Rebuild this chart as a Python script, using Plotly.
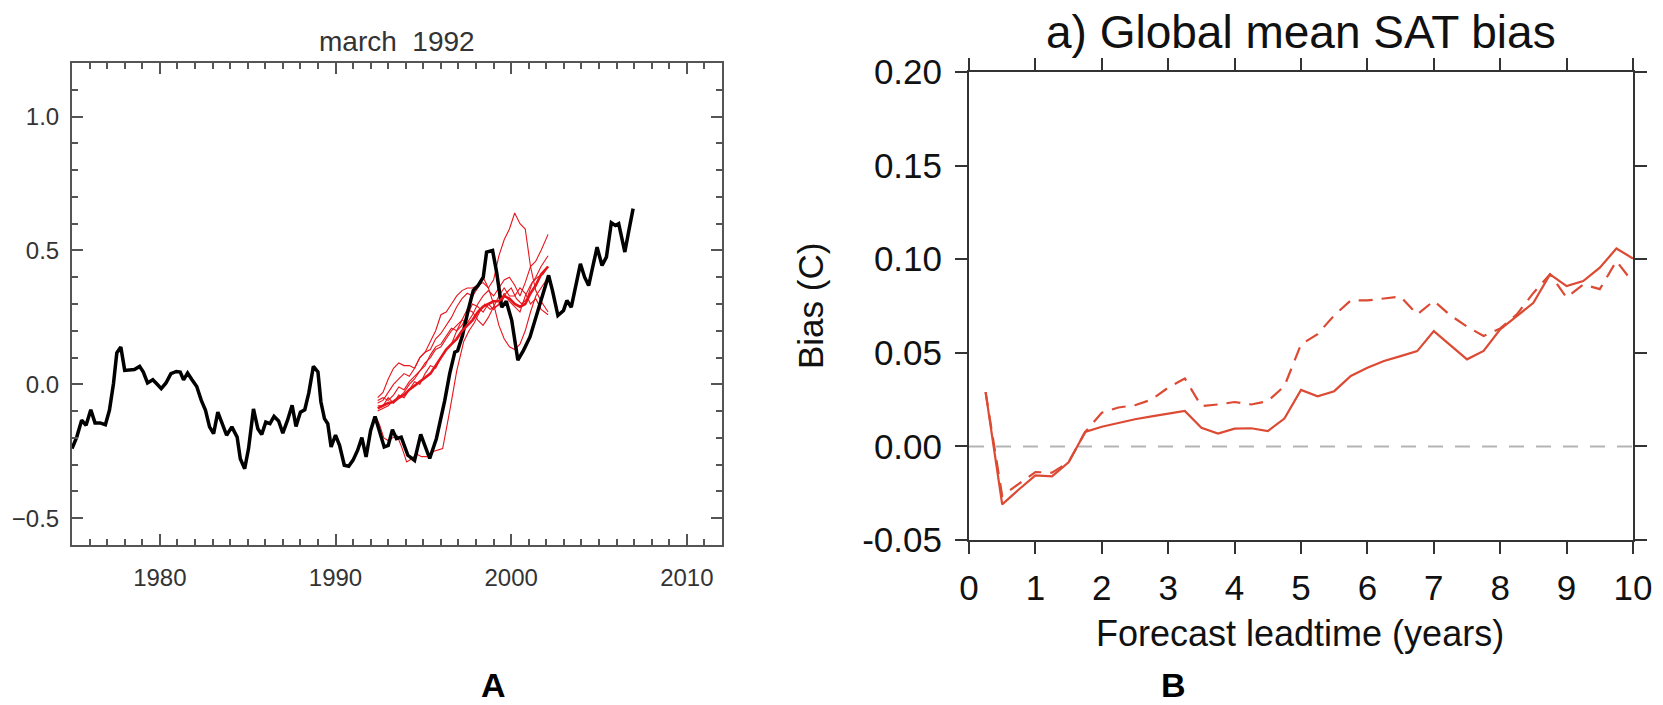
import plotly.graph_objects as go

# ---------------- Panel A data ----------------
obs_year = [1975.0, 1975.27, 1975.55, 1975.8, 1976.07, 1976.31, 1976.6, 1976.9, 1977.13, 1977.36,
            1977.55, 1977.78, 1978.0, 1978.3, 1978.55, 1978.85, 1979.06, 1979.3, 1979.6, 1979.85,
            1980.08, 1980.35, 1980.63, 1980.94, 1981.16, 1981.35, 1981.58, 1981.83, 1982.1, 1982.36,
            1982.6, 1982.83, 1983.06, 1983.3, 1983.6, 1983.8, 1984.1, 1984.4, 1984.58, 1984.83,
            1985.05, 1985.33, 1985.58, 1985.8, 1986.03, 1986.27, 1986.5, 1986.76, 1987.0, 1987.27,
            1987.53, 1987.75, 1988.0, 1988.25, 1988.48, 1988.74, 1989.0, 1989.17, 1989.37, 1989.56,
            1989.75, 1990.0, 1990.23, 1990.5, 1990.75, 1991.0, 1991.26, 1991.5, 1991.74, 1992.0,
            1992.25, 1992.48, 1992.77, 1993.0, 1993.24, 1993.47, 1993.74, 1994.12, 1994.5, 1994.85,
            1995.36, 1995.74, 1996.03, 1996.22, 1996.5, 1996.79, 1996.95, 1997.22, 1997.55, 1997.84,
            1998.13, 1998.41, 1998.6, 1998.94, 1999.17, 1999.46, 1999.72, 2000.03, 2000.38, 2000.7,
            2001.07, 2001.46, 2001.84, 2002.13, 2002.35, 2002.66, 2002.98, 2003.17, 2003.42, 2003.69,
            2003.94, 2004.18, 2004.41, 2004.66, 2004.89, 2005.17, 2005.42, 2005.7, 2005.93, 2006.12,
            2006.47, 2006.7, 2006.94]
obs_anom = [-0.24, -0.197, -0.134, -0.153, -0.095, -0.144, -0.144, -0.151, -0.097, 0.002,
            0.117, 0.139, 0.052, 0.052, 0.055, 0.067, 0.046, 0.005, 0.017, 0.0,
            -0.016, 0.005, 0.04, 0.048, 0.046, 0.017, 0.042, 0.017, -0.008, -0.06,
            -0.097, -0.159, -0.184, -0.104, -0.159, -0.19, -0.159, -0.197, -0.278, -0.315,
            -0.24, -0.092, -0.166, -0.187, -0.141, -0.147, -0.12, -0.137, -0.182, -0.134,
            -0.078, -0.157, -0.104, -0.095, -0.032, 0.067, 0.046, -0.066, -0.128, -0.147,
            -0.234, -0.19, -0.228, -0.302, -0.306, -0.283, -0.246, -0.199, -0.271, -0.172,
            -0.12, -0.172, -0.234, -0.228, -0.169, -0.203, -0.197, -0.265, -0.284, -0.187,
            -0.277, -0.203, -0.122, -0.06, 0.04, 0.12, 0.125, 0.18, 0.276, 0.35,
            0.37, 0.40, 0.494, 0.5, 0.419, 0.288, 0.31, 0.239, 0.09, 0.127,
            0.177, 0.264, 0.35, 0.407, 0.35, 0.257, 0.276, 0.313, 0.288, 0.376,
            0.45, 0.40, 0.369, 0.444, 0.512, 0.444, 0.475, 0.603, 0.593, 0.6,
            0.494, 0.575, 0.656]

fc_year = [1992.4, 1992.7, 1993.0, 1993.3, 1993.6, 1993.9, 1994.2, 1994.5, 1994.8, 1995.1,
           1995.4, 1995.7, 1996.0, 1996.3, 1996.6, 1996.9, 1997.2, 1997.5, 1997.8, 1998.1,
           1998.4, 1998.7, 1999.0, 1999.3, 1999.6, 1999.9, 2000.2, 2000.5, 2000.8, 2001.1,
           2001.4, 2001.7, 2002.1]
member1 = [-0.05, -0.03, 0.02, 0.06, 0.08, 0.07, 0.07, 0.06, 0.10, 0.12,
           0.16, 0.20, 0.26, 0.27, 0.30, 0.33, 0.35, 0.36, 0.36, 0.37,
           0.38, 0.36, 0.39, 0.48, 0.54, 0.58, 0.64, 0.60, 0.58, 0.44,
           0.35, 0.31, 0.27]
member2 = [-0.07, -0.06, -0.03, 0.0, 0.02, 0.04, 0.03, 0.06, 0.10, 0.12,
           0.13, 0.17, 0.19, 0.22, 0.25, 0.29, 0.32, 0.34, 0.33, 0.36,
           0.40, 0.36, 0.30, 0.22, 0.17, 0.14, 0.13, 0.15, 0.20, 0.27,
           0.33, 0.36, 0.40]
member3 = [-0.06, -0.05, -0.06, -0.04, -0.01, -0.02, 0.01, 0.03, 0.05, 0.08,
           0.10, 0.13, 0.14, 0.17, 0.20, 0.22, 0.24, 0.23, 0.26, 0.30,
           0.33, 0.35, 0.33, 0.36, 0.39, 0.40, 0.37, 0.33, 0.38, 0.44,
           0.46, 0.50, 0.56]
member4 = [-0.08, -0.08, -0.05, -0.07, -0.04, -0.05, -0.02, 0.01, 0.0, 0.04,
           0.07, 0.06, 0.10, 0.13, 0.15, 0.20, 0.22, 0.26, 0.30, 0.29,
           0.27, 0.30, 0.28, 0.30, 0.34, 0.31, 0.29, 0.27, 0.33, 0.37,
           0.40, 0.44, 0.48]
member5 = [-0.10, -0.09, -0.08, -0.06, -0.05, -0.03, 0.0, 0.02, 0.05, 0.07,
           0.11, 0.14, 0.15, 0.18, 0.21, 0.20, 0.24, 0.28, 0.27, 0.24,
           0.22, 0.25, 0.29, 0.33, 0.36, 0.33, 0.33, 0.36, 0.34, 0.30,
           0.32, 0.28, 0.26]
ens_mean = [-0.09, -0.08, -0.07, -0.066, -0.05, -0.04, -0.02, -0.005, 0.01, 0.025,
            0.04, 0.07, 0.10, 0.13, 0.15, 0.17, 0.20, 0.22, 0.24, 0.27,
            0.29, 0.30, 0.31, 0.31, 0.33, 0.32, 0.30, 0.29, 0.30, 0.34,
            0.37, 0.41, 0.44]
late_year = [1992.3, 1992.5, 1992.75, 1993.0, 1993.25, 1993.5, 1993.8, 1994.05, 1994.3, 1994.6,
             1994.9, 1995.2, 1995.6, 1996.1, 1996.5, 1996.9, 1997.3, 1997.6, 1997.9, 1998.2,
             1998.5, 1998.8, 1999.1, 1999.4, 1999.7, 2000.0, 2000.3, 2000.6, 2000.9, 2001.2,
             2001.5, 2001.8, 2002.1]
late_member = [-0.12, -0.15, -0.20, -0.21, -0.20, -0.19, -0.24, -0.29, -0.28, -0.26,
               -0.27, -0.27, -0.25, -0.24, -0.10, 0.05, 0.16, 0.20, 0.23, 0.27,
               0.30, 0.28, 0.29, 0.30, 0.34, 0.36, 0.32, 0.30, 0.32, 0.38,
               0.40, 0.41, 0.44]

# ---------------- Panel B data ----------------
leadtime = [0.25, 0.5, 0.75, 1.0, 1.25, 1.5, 1.75, 2.0, 2.25, 2.5, 2.75, 3.0, 3.25, 3.5, 3.75,
            4.0, 4.25, 4.5, 4.75, 5.0, 5.25, 5.5, 5.75, 6.0, 6.25, 6.5, 6.75, 7.0, 7.25, 7.5,
            7.75, 8.0, 8.25, 8.5, 8.75, 9.0, 9.25, 9.5, 9.75, 10.0]
bias_solid = [0.029, -0.031, -0.023, -0.0155, -0.016, -0.0085, 0.0077, 0.0105, 0.0125, 0.0145,
              0.016, 0.0173, 0.0189, 0.010, 0.0069, 0.0095, 0.0097, 0.0082, 0.0149, 0.0302,
              0.0268, 0.0295, 0.0376, 0.042, 0.0456, 0.0482, 0.0509, 0.0616, 0.054, 0.0465,
              0.051, 0.0625, 0.0696, 0.0767, 0.0919, 0.0856, 0.0883, 0.0955, 0.1057, 0.1004]
bias_dashed = [0.029, -0.0265, -0.020, -0.0137, -0.014, -0.0085, 0.0077, 0.018, 0.0208, 0.022,
               0.025, 0.0314, 0.0363, 0.0215, 0.0224, 0.0237, 0.0224, 0.0242, 0.0322, 0.0545,
               0.060, 0.070, 0.078, 0.078, 0.079, 0.080, 0.0705, 0.0777, 0.070, 0.064,
               0.059, 0.063, 0.0705, 0.082, 0.092, 0.0795, 0.0865, 0.084, 0.099, 0.0876]

W, H = 1663, 705


def px(x):
    return x / W


def py(y):
    return 1 - y / H


RED = "#e8141c"
BRED = "#dc4a33"

fig = go.Figure()

for m in [member1, member2, member3, member4, member5]:
    fig.add_trace(go.Scatter(x=fc_year, y=m, mode="lines", line=dict(color=RED, width=1.1),
                             xaxis="x", yaxis="y", showlegend=False, hoverinfo="skip"))
fig.add_trace(go.Scatter(x=late_year, y=late_member, mode="lines", line=dict(color=RED, width=1.1),
                         xaxis="x", yaxis="y", showlegend=False))
fig.add_trace(go.Scatter(x=obs_year, y=obs_anom, mode="lines", line=dict(color="black", width=3.5),
                         xaxis="x", yaxis="y", showlegend=False))
fig.add_trace(go.Scatter(x=fc_year, y=ens_mean, mode="lines", line=dict(color=RED, width=2.6),
                         xaxis="x", yaxis="y", showlegend=False))

# Panel B
fig.add_trace(go.Scatter(x=[0, 10], y=[0, 0], mode="lines",
                         line=dict(color="#b4b4b4", width=2, dash="15px,12px"),
                         xaxis="x2", yaxis="y2", showlegend=False))
fig.add_trace(go.Scatter(x=leadtime, y=bias_dashed, mode="lines",
                         line=dict(color=BRED, width=2.2, dash="14px,9px"),
                         xaxis="x2", yaxis="y2", showlegend=False))
fig.add_trace(go.Scatter(x=leadtime, y=bias_solid, mode="lines",
                         line=dict(color=BRED, width=2.2),
                         xaxis="x2", yaxis="y2", showlegend=False))

AX_A = "#555555"
fontA = dict(family="Liberation Sans, Arial, sans-serif", size=24, color="#333333")
fontB = dict(family="Liberation Sans, Arial, sans-serif", size=35, color="#111111")

fig.update_layout(
    width=W, height=H,
    margin=dict(l=0, r=0, t=0, b=0, autoexpand=False),
    paper_bgcolor="white", plot_bgcolor="white",
    xaxis=dict(domain=[px(72), px(722)], range=[1975, 2012], tickmode="array",
               tickvals=[1980, 1990, 2000, 2010], ticks="inside", ticklen=11, tickwidth=1.8,
               tickcolor=AX_A, showline=True, linecolor=AX_A, linewidth=2, mirror="ticks",
               showgrid=False, zeroline=False, tickfont=fontA, ticklabelstandoff=10,
               automargin=False,
               minor=dict(dtick=1, tick0=1975, ticks="inside", ticklen=6, tickwidth=1.5,
                          tickcolor=AX_A, showgrid=False),
               anchor="y"),
    yaxis=dict(domain=[py(545), py(63)], range=[-0.6, 1.2], tickmode="array",
               tickvals=[-0.5, 0.0, 0.5, 1.0], ticktext=["\u22120.5", "0.0", "0.5", "1.0"],
               ticks="inside", ticklen=11, tickwidth=1.8, tickcolor=AX_A,
               showline=True, linecolor=AX_A, linewidth=2, mirror="ticks",
               showgrid=False, zeroline=False, tickfont=fontA, ticklabelstandoff=6,
               automargin=False,
               minor=dict(dtick=0.1, tick0=0, ticks="inside", ticklen=6, tickwidth=1.5,
                          tickcolor=AX_A, showgrid=False),
               anchor="x"),
    xaxis2=dict(domain=[px(969), px(1633)], range=[0, 10], tickmode="linear", tick0=0, dtick=1,
                ticks="outside", ticklen=12, tickwidth=1.8, tickcolor="#333333",
                showline=True, linecolor="#333333", linewidth=2, mirror="ticks",
                showgrid=False, zeroline=False, tickfont=fontB, ticklabelstandoff=4,
                automargin=False, anchor="y2"),
    yaxis2=dict(domain=[py(540), py(72)], range=[-0.05, 0.2], tickmode="array",
                tickvals=[-0.05, 0.0, 0.05, 0.10, 0.15, 0.20],
                ticktext=["-0.05", "0.00", "0.05", "0.10", "0.15", "0.20"],
                ticks="outside", ticklen=12, tickwidth=1.8, tickcolor="#333333",
                showline=True, linecolor="#333333", linewidth=2, mirror="ticks",
                showgrid=False, zeroline=False, tickfont=fontB, ticklabelstandoff=6,
                automargin=False, anchor="x2"),
    annotations=[
        dict(text="march  1992", x=px(397), y=py(42), xref="paper", yref="paper",
             showarrow=False, xanchor="center", yanchor="middle",
             font=dict(family="Liberation Sans, Arial, sans-serif", size=28, color="#333333")),
        dict(text="a) Global mean SAT bias", x=px(1301), y=py(32), xref="paper", yref="paper",
             showarrow=False, xanchor="center", yanchor="middle",
             font=dict(family="Liberation Sans, Arial, sans-serif", size=46, color="#111111")),
        dict(text="Bias (C)", x=px(810), y=py(306), xref="paper", yref="paper",
             showarrow=False, xanchor="center", yanchor="middle", textangle=-90,
             font=dict(family="Liberation Sans, Arial, sans-serif", size=35, color="#111111")),
        dict(text="Forecast leadtime (years)", x=px(1300), y=py(633), xref="paper", yref="paper",
             showarrow=False, xanchor="center", yanchor="middle",
             font=dict(family="Liberation Sans, Arial, sans-serif", size=36, color="#111111")),
        dict(text="<b>A</b>", x=px(494), y=0, xref="paper", yref="paper",
             showarrow=False, xanchor="center", yanchor="bottom", borderpad=0,
             font=dict(family="Liberation Sans, Arial, sans-serif", size=34, color="black")),
        dict(text="<b>B</b>", x=px(1173), y=0, xref="paper", yref="paper",
             showarrow=False, xanchor="center", yanchor="bottom", borderpad=0,
             font=dict(family="Liberation Sans, Arial, sans-serif", size=34, color="black")),
    ],
)

# remove the default 8px page margin so the figure sits at the window's top-left corner
fig.write_html("out.html", config={"displayModeBar": False},
               post_script="document.body.style.margin='0';document.body.style.overflow='hidden';")
